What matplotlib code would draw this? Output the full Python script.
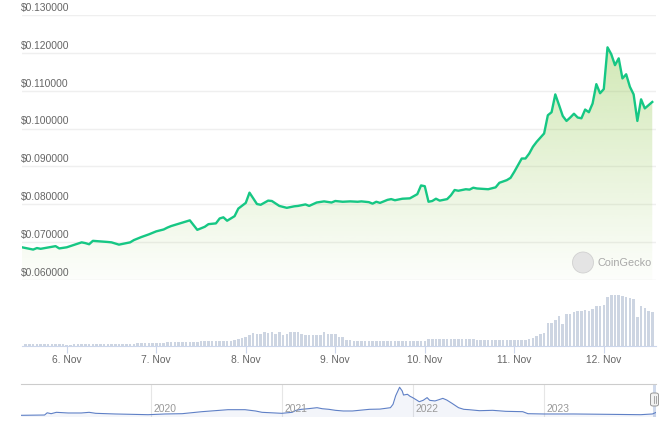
import matplotlib.pyplot as plt
import numpy as np
from matplotlib.patches import Ellipse, FancyBboxPatch

# price, hourly-ish, hours counted from 6 Nov 00:00
hours = [-12, -9, -8, -7, -3, -2, 0, 4, 5, 6, 7, 11, 12, 14, 17, 18, 20, 22, 24, 26,
         27, 28, 31, 32, 33, 35, 37, 38, 40, 41, 42, 43, 45, 46, 48, 49, 50, 51, 52, 54,
         55, 57, 59, 61, 62, 64, 65, 67, 69, 71, 72, 74, 76, 78, 79, 81, 82, 83, 84, 86,
         87, 88, 90, 92, 94, 95, 96, 97, 98, 99, 100, 102, 103, 104, 105, 107, 108, 109, 110, 113,
         115, 116, 118, 119, 120, 122, 123, 124, 125, 126, 128, 129, 130, 131, 132, 133, 134, 135, 136, 137,
         138, 139, 140, 141, 142, 143, 144, 145, 146, 147, 148, 149, 150, 151, 152, 153, 154, 155, 157]
prices = [0.0687, 0.0681, 0.0685, 0.0683, 0.0690, 0.0684, 0.0687, 0.0700, 0.0698, 0.0695,
          0.0704, 0.0701, 0.0700, 0.0694, 0.0700, 0.0706, 0.0714, 0.0721, 0.0729, 0.0734,
          0.0739, 0.0743, 0.0752, 0.0755, 0.0758, 0.0733, 0.0741, 0.0748, 0.0750, 0.0763,
          0.0766, 0.0757, 0.0769, 0.0789, 0.0804, 0.0831, 0.0816, 0.0801, 0.0799, 0.0810,
          0.0809, 0.0796, 0.0791, 0.0795, 0.0796, 0.0800, 0.0796, 0.0805, 0.0808, 0.0805,
          0.0809, 0.0807, 0.0808, 0.0807, 0.0808, 0.0806, 0.0802, 0.0807, 0.0804, 0.0812,
          0.0814, 0.0811, 0.0815, 0.0816, 0.0827, 0.0850, 0.0848, 0.0807, 0.0809, 0.0815,
          0.0810, 0.0814, 0.0824, 0.0838, 0.0836, 0.0840, 0.0839, 0.0844, 0.0842, 0.0840,
          0.0845, 0.0857, 0.0864, 0.0870, 0.0886, 0.0921, 0.0921, 0.0934, 0.0952, 0.0965,
          0.0987, 0.1035, 0.1043, 0.1090, 0.1062, 0.1033, 0.1020, 0.1029, 0.1039, 0.1029,
          0.1027, 0.1050, 0.1043, 0.1066, 0.1117, 0.1093, 0.1104, 0.1214, 0.1196, 0.1167,
          0.1185, 0.1132, 0.1143, 0.1110, 0.1090, 0.1020, 0.1077, 0.1053, 0.1070]

# hourly volume (arbitrary units), hours -11 .. 157
vol_start = -11
volume = [2.0, 2.1, 2.0, 2.0, 2.1, 2.0, 2.0, 2.1, 2.0, 1.9, 1.6,
          1.3, 1.4, 1.6,
          2.0, 2.0, 2.1, 2.0, 2.0, 2.1, 2.0, 2.0, 2.0, 2.1, 2.0, 2.0, 2.1, 2.0, 2.2, 2.3,
          3.0, 2.9, 3.0, 3.1, 3.0, 3.0, 3.2, 3.4, 3.6, 3.7,
          4.0, 4.2, 4.0, 3.9, 4.1, 4.3, 4.5,
          4.8, 5.0, 5.1, 4.9, 5.0, 5.2, 5.0, 5.3, 5.5, 5.8,
          6.7, 8.0, 9.3, 11.0, 12.7, 11.7, 11.7, 14.0, 12.7, 13.7, 11.7, 13.7, 11.3, 12.5, 14.0,
          14.0, 14.0, 12.0, 11.3, 11.3, 11.3, 11.5, 11.3, 13.7, 11.7, 11.7, 11.7, 9.3, 9.3,
          6.3, 6.0, 5.3, 5.0, 5.0, 5.0, 4.8, 5.0, 5.0, 4.8, 5.0, 5.0, 5.0, 4.8, 5.0, 5.0,
          5.0, 5.0, 5.2, 5.0, 5.3, 5.5,
          7.0, 7.0, 7.0, 7.0, 7.0, 7.3, 7.0, 7.0, 7.3, 7.0, 7.0, 7.0, 6.8,
          6.0, 6.0, 6.0, 6.0, 6.2, 6.0, 6.0, 6.3, 6.0, 6.0, 6.0, 6.0,
          6.5, 6.0, 6.8,
          8.0, 10.3, 11.7, 12.7, 22.7, 23.3, 26.0, 30.0, 22.0, 31.7, 31.7, 33.7, 34.7, 35.3,
          36.0, 35.3, 36.7, 40.3, 40.3, 41.3, 49.3, 50.7, 50.7, 51.3, 50.0, 49.3, 48.3, 47.0,
          29.3, 40.3, 37.7, 35.0, 34.0]

day_hours = [0, 24, 48, 72, 96, 120, 144]
day_labels = ["6. Nov", "7. Nov", "8. Nov", "9. Nov", "10. Nov", "11. Nov", "12. Nov"]
price_ticks = [0.06, 0.07, 0.08, 0.09, 0.10, 0.11, 0.12, 0.13]

# navigator: full history, fractional years
nav_years = [2019.01, 2019.19, 2019.21, 2019.24, 2019.28, 2019.37, 2019.47, 2019.53, 2019.58,
             2019.73, 2019.98, 2020.11, 2020.24, 2020.39, 2020.59, 2020.72, 2020.80, 2020.85,
             2021.00, 2021.08, 2021.11, 2021.15, 2021.20, 2021.27, 2021.31, 2021.36, 2021.41,
             2021.47, 2021.54, 2021.67, 2021.75, 2021.83, 2021.85, 2021.87, 2021.90, 2021.92,
             2021.93, 2021.96, 2021.98, 2022.00, 2022.03, 2022.05, 2022.08, 2022.11, 2022.13,
             2022.17, 2022.20, 2022.23, 2022.26, 2022.30, 2022.35, 2022.39, 2022.43, 2022.51,
             2022.61, 2022.71, 2022.84, 2022.88, 2023.00, 2023.23, 2023.48, 2023.74, 2023.83,
             2023.855]
nav_prices = [0.032, 0.040, 0.100, 0.076, 0.113, 0.095, 0.095, 0.113, 0.086,
              0.068, 0.049, 0.068, 0.076, 0.130, 0.184, 0.184, 0.149, 0.113,
              0.086, 0.113, 0.167, 0.194, 0.210, 0.238, 0.210, 0.194, 0.167,
              0.149, 0.149, 0.194, 0.200, 0.238, 0.330, 0.560, 0.790, 0.690,
              0.580, 0.600, 0.545, 0.510, 0.445, 0.400, 0.437, 0.510, 0.437,
              0.420, 0.454, 0.490, 0.445, 0.356, 0.238, 0.194, 0.184, 0.157,
              0.167, 0.140, 0.130, 0.076, 0.068, 0.068, 0.059, 0.049, 0.068,
              0.107]
nav_year_ticks = [2020, 2021, 2022, 2023]

W, H = 669, 429
def fx(px):
    return px / W
def fy(py):
    return 1 - py / H

plt.rcParams['font.family'] = ['Liberation Sans', 'DejaVu Sans']
label_col = "#666666"
green = "#16c784"

fig = plt.figure(figsize=(W / 100, H / 100), dpi=100)

# ---- price panel
ax = fig.add_axes([fx(22), fy(280.3), 634 / W, (280.3 - 14.7) / H])
ax.set_xlim(-12, 158)
ax.set_ylim(0.06, 0.13)
for s in ax.spines.values():
    s.set_visible(False)
ax.set_xticks([])
ax.set_yticks(price_ticks)
ax.tick_params(axis='y', length=0, labelleft=False)
ax.grid(axis='y', color="#efefef", lw=1)
ax.set_axisbelow(True)

poly = ax.fill_between(hours, prices, 0.06, color='none', lw=0)
ys = np.linspace(0, 1, 256)
rgba = np.zeros((256, 1, 4))
rgba[..., 0] = 141 / 255
rgba[..., 1] = 198 / 255
rgba[..., 2] = 71 / 255
rgba[:, 0, 3] = np.clip(0.02 + 0.40 * ys / 0.93, 0, 0.42)
im = ax.imshow(rgba, origin='lower', extent=[-12, 158, 0.06, 0.13], aspect='auto', zorder=1)
im.set_clip_path(poly.get_paths()[0], transform=ax.transData)
ax.plot(hours, prices, color=green, lw=1.7, zorder=3, solid_joinstyle='round')

for t in price_ticks:
    ax.annotate(f"${t:.6f}", xy=(fx(21), t), xycoords=('figure fraction', 'data'),
                xytext=(0, 1.5), textcoords='offset points', ha='left', va='bottom',
                fontsize=7.4, color=label_col)

# watermark
fig.add_artist(Ellipse((fx(583), fy(262.5)), 21 / W, 21 / H, transform=fig.transFigure,
                       facecolor="#e4e4e4", edgecolor="#d0d0d0", lw=0.6))
fig.text(fx(597), fy(262.5), "CoinGecko", fontsize=7.8, color="#a8a8a8", va='center', ha='left')

# ---- volume panel
axv = fig.add_axes([fx(22), fy(346), 634 / W, 64 / H])
vol_hours = np.arange(vol_start, vol_start + len(volume))
axv.bar(vol_hours, volume, width=0.68, color="#cdd5e2", lw=0)
axv.set_xlim(-12, 158)
axv.set_ylim(0, max(volume) * 64 / 51.3)
for k, s in axv.spines.items():
    s.set_visible(k == 'bottom')
axv.spines['bottom'].set_color("#ccd6eb")
axv.set_yticks([])
axv.set_xticks(day_hours)
axv.set_xticklabels(day_labels)
axv.tick_params(axis='x', length=5, width=0.8, color="#ccd6eb", pad=1.8,
                labelsize=7.4, labelcolor=label_col)

# ---- navigator
axn = fig.add_axes([fx(21), fy(416.5), (655.7 - 21) / W, (416.5 - 384.3) / H])
axn.set_xlim(2019.01, 2023.855)
axn.set_ylim(0, 0.87)
axn.fill_between(nav_years, nav_prices, 0, color="#335cad", alpha=0.06, lw=0)
axn.plot(nav_years, nav_prices, color="#5f80c6", lw=0.8)
for yr in nav_year_ticks:
    axn.axvline(yr, color="#e6e6e6", lw=0.8, zorder=0)
    axn.annotate(str(yr), xy=(yr, 0), xytext=(2, 3), textcoords='offset points',
                 ha='left', va='baseline', fontsize=7.4, color="#999999")
axn.axvspan(2023.836, 2023.855, color="#6685c2", alpha=0.3, lw=0)
for k, s in axn.spines.items():
    s.set_visible(k == 'top')
axn.spines['top'].set_color("#cccccc")
axn.set_xticks([])
axn.set_yticks([])

# handle at the right end of the navigator
fig.add_artist(FancyBboxPatch((fx(650.5), fy(406)), 8 / W, 13 / H,
                              boxstyle="round,pad=0,rounding_size=0.004",
                              transform=fig.transFigure, facecolor="#f2f2f2",
                              edgecolor="#999999", lw=0.7))
for hx in (653.5, 655.5):
    fig.add_artist(plt.Line2D([fx(hx), fx(hx)], [fy(396), fy(403)],
                              transform=fig.transFigure, color="#999999", lw=0.6))

fig.savefig("out.png", dpi=100)
